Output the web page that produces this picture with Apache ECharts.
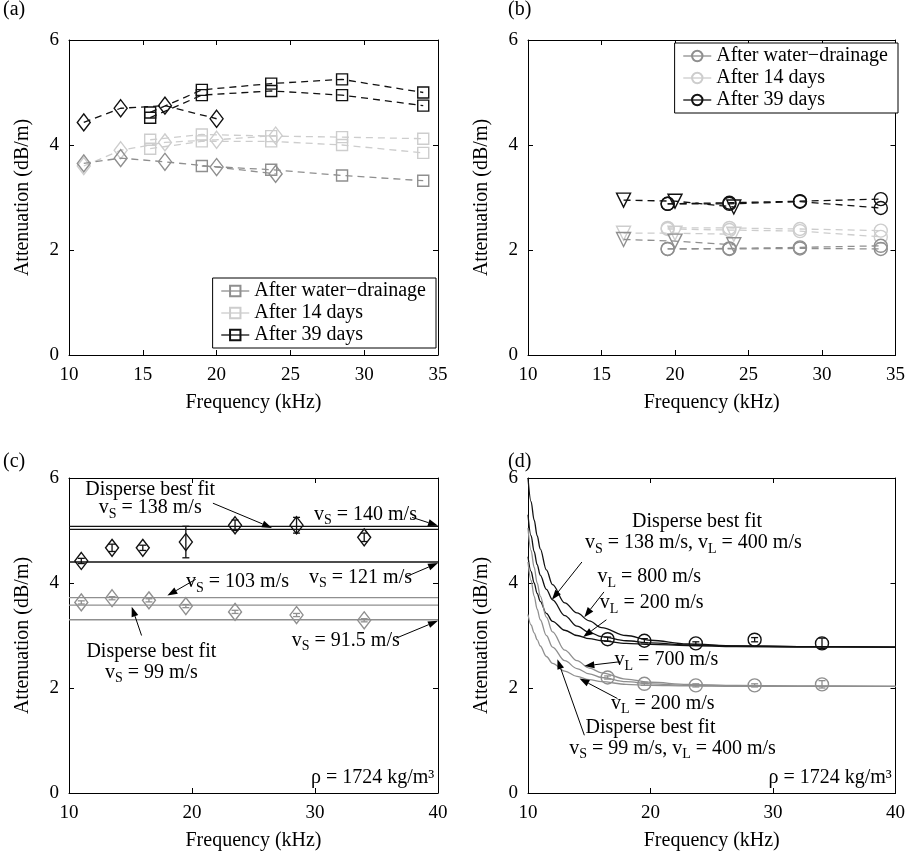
<!DOCTYPE html>
<html><head><meta charset="utf-8">
<script src="https://cdn.jsdelivr.net/npm/echarts@6/dist/echarts.min.js"></script>
<style>html,body{margin:0;padding:0;background:#fff}#c{width:908px;height:866px}</style>
</head><body><div id="c"></div>
<script>
// ---------------- DATA ----------------
// Panel (a)
const aFreqDiamondDark = [11, 13.5, 16.5, 20];
const aDiamondDark     = [4.43, 4.7, 4.75, 4.5];
const aFreqSquare      = [15.5, 19, 23.7, 28.5, 34];
const aSquareDark1     = [4.62, 5.05, 5.17, 5.25, 5.0];
const aSquareDark2     = [4.52, 4.95, 5.03, 4.95, 4.75];
const aFreqDiamond     = [11, 13.5, 16.5, 20, 24];
const aDiamondLight    = [3.6, 3.9, 4.05, 4.1, 4.18];
const aSquareLight1    = [4.1, 4.2, 4.17, 4.15, 4.12];
const aSquareLight2    = [3.93, 4.07, 4.07, 4.0, 3.85];
const aDiamondGray     = [3.65, 3.75, 3.68, 3.58, 3.45];
const aFreqSquareGray  = [19, 23.7, 28.5, 34];
const aSquareGray      = [3.6, 3.53, 3.42, 3.32];

// Panel (b)
const bFreqTri    = [16.5, 20, 24];
const bFreqCirc   = [19.5, 23.7, 28.5, 34];
const bTriDark    = [2.95, 2.93, 2.82];
const bCircDark1  = [2.88, 2.9, 2.93, 2.97];
const bCircDark2  = [2.88, 2.88, 2.92, 2.8];
const bTriLight   = [2.32, 2.32, 2.3];
const bCircLight1 = [2.42, 2.42, 2.4, 2.37];
const bCircLight2 = [2.4, 2.38, 2.36, 2.25];
const bTriGray    = [2.2, 2.17, 2.1];
const bCircGray1  = [2.02, 2.03, 2.05, 2.08];
const bCircGray2  = [2.02, 2.02, 2.03, 2.02];

// Panel (c)
const cFreqDark = [11, 13.5, 16, 19.5, 23.5, 28.5, 34];
const cDark     = [4.42, 4.67, 4.67, 4.78, 5.1, 5.1, 4.87];
const cDarkErr  = [0.05, 0.07, 0.05, 0.3, 0.1, 0.15, 0.08];
const cFreqGray = [11, 13.5, 16.5, 19.5, 23.5, 28.5, 34];
const cGray     = [3.63, 3.71, 3.67, 3.56, 3.45, 3.39, 3.29];
const cGrayErr  = [0.03, 0.03, 0.03, 0.03, 0.03, 0.03, 0.03];
const cFitFreq  = [10, 40];
const cFit140   = [5.08, 5.08];
const cFit138   = [5.02, 5.02];
const cFit121   = [4.4, 4.4];
const cFit103   = [3.72, 3.72];
const cFit99    = [3.58, 3.58];
const cFit915   = [3.3, 3.3];

// Panel (d)
const dCurveFreq = [10, 10.25, 10.5, 10.75, 11, 11.5, 12, 13, 14, 15, 16, 18, 20, 23, 27, 32, 40];
const dDark800   = [6.0, 5.55, 5.2, 4.9, 4.65, 4.25, 3.97, 3.62, 3.43, 3.28, 3.15, 3.0, 2.91, 2.84, 2.8, 2.79, 2.78];
const dDark400   = [5.3, 4.9, 4.6, 4.35, 4.15, 3.88, 3.68, 3.38, 3.18, 3.06, 2.98, 2.9, 2.86, 2.82, 2.8, 2.79, 2.78];
const dDark200   = [4.5, 4.22, 4.0, 3.8, 3.65, 3.42, 3.27, 3.1, 3.0, 2.94, 2.9, 2.85, 2.83, 2.81, 2.79, 2.78, 2.78];
const dGray700   = [5.05, 4.62, 4.3, 4.0, 3.75, 3.35, 3.07, 2.72, 2.52, 2.38, 2.29, 2.17, 2.11, 2.07, 2.05, 2.04, 2.03];
const dGray400   = [4.4, 4.05, 3.75, 3.5, 3.3, 3.0, 2.78, 2.52, 2.37, 2.27, 2.2, 2.12, 2.08, 2.05, 2.04, 2.03, 2.03];
const dGray200   = [3.4, 3.2, 3.05, 2.92, 2.8, 2.6, 2.47, 2.32, 2.22, 2.16, 2.12, 2.07, 2.05, 2.04, 2.03, 2.03, 2.03];
const dFreq      = [16.5, 19.5, 23.7, 28.5, 34];
const dDark      = [2.93, 2.9, 2.85, 2.92, 2.85];
const dDarkErr   = [0.04, 0.04, 0.03, 0.04, 0.1];
const dGray      = [2.2, 2.08, 2.05, 2.05, 2.07];
const dGrayErr   = [0.03, 0.03, 0.03, 0.03, 0.07];

// tick settings
const xTicksTop = [10, 35, 5];
const xTicksBottom = [10, 40, 10];
const yTicks = [0, 6, 2];

// ---------------- STYLE ----------------
const FONT = "'Liberation Serif', 'Times New Roman', serif";
const DARK = '#111111', GRAY = '#8f8f8f', LIGHT = '#cdcdcd';
const grids = [
  {left: 69, top: 40, width: 369, height: 315},
  {left: 528, top: 40, width: 370, height: 315},
  {left: 69, top: 478, width: 369, height: 315},
  {left: 528, top: 478, width: 370, height: 315}
];
const xr = [xTicksTop, xTicksTop, xTicksBottom, xTicksBottom];

function pts(xs, ys) { return xs.map((x, i) => [x, ys[i]]); }

const xAxis = [], yAxis = [];
for (let k = 0; k < 2; k++) {
  for (let i = 0; i < 4; i++) {
    const prim = k === 0;
    xAxis.push({
      gridIndex: i, type: 'value', min: xr[i][0], max: xr[i][1], interval: xr[i][2],
      position: prim ? 'bottom' : 'top',
      name: prim ? 'Frequency (kHz)' : '', nameLocation: 'middle', nameGap: 38,
      nameTextStyle: {fontFamily: FONT, fontSize: 20, color: '#000'},
      axisLine: {show: true, onZero: false, lineStyle: {color: '#000', width: 1}},
      axisTick: {show: true, inside: true, length: 5, lineStyle: {color: '#000'}},
      axisLabel: {show: prim, fontFamily: FONT, fontSize: 19, color: '#000', margin: 11},
      splitLine: {show: false}
    });
    yAxis.push({
      gridIndex: i, type: 'value', min: yTicks[0], max: yTicks[1], interval: yTicks[2],
      position: prim ? 'left' : 'right',
      name: prim ? 'Attenuation (dB/m)' : '', nameLocation: 'middle', nameGap: 36,
      nameTextStyle: {fontFamily: FONT, fontSize: 20, color: '#000'},
      axisLine: {show: true, onZero: false, lineStyle: {color: '#000', width: 1}},
      axisTick: {show: true, inside: true, length: 5, lineStyle: {color: '#000'}},
      axisLabel: {show: prim, fontFamily: FONT, fontSize: 19, color: '#000', margin: 10},
      splitLine: {show: false}
    });
  }
}

function dashed(name, g, xs, ys, color, symbol, size, rot, z) {
  return {
    type: 'line', name, xAxisIndex: g, yAxisIndex: g, data: pts(xs, ys),
    symbol, symbolSize: size, symbolRotate: rot || 0, z: z || 2,
    itemStyle: {color: 'rgba(255,255,255,0)', borderColor: color, borderWidth: 1.4},
    lineStyle: {color, width: 1.3, type: [7, 5]},
    emphasis: {disabled: true}, silent: true
  };
}
function solid(name, g, xs, ys, color, z) {
  return {
    type: 'line', name, xAxisIndex: g, yAxisIndex: g, data: pts(xs, ys),
    symbol: 'none', smooth: 0.35, smoothMonotone: 'x', z: z || 2,
    lineStyle: {color, width: 1.3}, emphasis: {disabled: true}, silent: true
  };
}
function marks(name, g, xs, ys, color, symbol, size, z) {
  return {
    type: 'line', name, xAxisIndex: g, yAxisIndex: g, data: pts(xs, ys),
    symbol, symbolSize: size, z: z || 4, showSymbol: true,
    itemStyle: {color: 'rgba(255,255,255,0)', borderColor: color, borderWidth: 1.4},
    lineStyle: {width: 0, opacity: 0}, emphasis: {disabled: true}, silent: true
  };
}
function errbars(name, g, xs, ys, es, color) {
  return {
    type: 'custom', name, xAxisIndex: g, yAxisIndex: g, z: 5, silent: true,
    data: xs.map((x, i) => [x, ys[i] - es[i], ys[i] + es[i]]),
    encode: {x: 0, y: [1, 2]},
    renderItem: (params, api) => {
      const x = api.value(0);
      const lo = api.coord([x, api.value(1)]);
      const hi = api.coord([x, api.value(2)]);
      const w = 3.5, st = {stroke: color, lineWidth: 1.3};
      return {type: 'group', children: [
        {type: 'line', shape: {x1: lo[0], y1: lo[1], x2: hi[0], y2: hi[1]}, style: st},
        {type: 'line', shape: {x1: lo[0] - w, y1: lo[1], x2: lo[0] + w, y2: lo[1]}, style: st},
        {type: 'line', shape: {x1: hi[0] - w, y1: hi[1], x2: hi[0] + w, y2: hi[1]}, style: st}
      ]};
    }
  };
}

const DIA = [13, 17], SQ = 11, CIR = 13, TRI = 14;
const series = [
  // (a)
  dashed('After water−drainage', 0, aFreqSquareGray, aSquareGray, GRAY, 'rect', SQ, 0, 3),
  dashed('After 14 days', 0, aFreqSquare, aSquareLight1, LIGHT, 'rect', SQ, 0, 2),
  dashed('After 14 days', 0, aFreqSquare, aSquareLight2, LIGHT, 'rect', SQ, 0, 2),
  dashed('After 39 days', 0, aFreqSquare, aSquareDark1, DARK, 'rect', SQ, 0, 4),
  dashed('After 39 days', 0, aFreqSquare, aSquareDark2, DARK, 'rect', SQ, 0, 4),
  dashed('a-diamond-light', 0, aFreqDiamond, aDiamondLight, LIGHT, 'diamond', DIA, 0, 2),
  dashed('a-diamond-gray', 0, aFreqDiamond, aDiamondGray, GRAY, 'diamond', DIA, 0, 3),
  dashed('a-diamond-dark', 0, aFreqDiamondDark, aDiamondDark, DARK, 'diamond', DIA, 0, 4),
  // (b)
  dashed('b:After water−drainage', 1, bFreqCirc, bCircGray1, GRAY, 'circle', CIR, 0, 3),
  dashed('b:After water−drainage', 1, bFreqCirc, bCircGray2, GRAY, 'circle', CIR, 0, 3),
  dashed('b:After 14 days', 1, bFreqCirc, bCircLight1, LIGHT, 'circle', CIR, 0, 2),
  dashed('b:After 14 days', 1, bFreqCirc, bCircLight2, LIGHT, 'circle', CIR, 0, 2),
  dashed('b:After 39 days', 1, bFreqCirc, bCircDark1, DARK, 'circle', CIR, 0, 4),
  dashed('b:After 39 days', 1, bFreqCirc, bCircDark2, DARK, 'circle', CIR, 0, 4),
  dashed('b-tri-light', 1, bFreqTri, bTriLight, LIGHT, 'triangle', TRI, 180, 2),
  dashed('b-tri-gray', 1, bFreqTri, bTriGray, GRAY, 'triangle', TRI, 180, 3),
  dashed('b-tri-dark', 1, bFreqTri, bTriDark, DARK, 'triangle', TRI, 180, 4),
  // (c)
  solid('c-fit-140', 2, cFitFreq, cFit140, DARK),
  solid('c-fit-138', 2, cFitFreq, cFit138, DARK),
  solid('c-fit-121', 2, cFitFreq, cFit121, DARK),
  solid('c-fit-103', 2, cFitFreq, cFit103, GRAY),
  solid('c-fit-99', 2, cFitFreq, cFit99, GRAY),
  solid('c-fit-91.5', 2, cFitFreq, cFit915, GRAY),
  marks('c-dark', 2, cFreqDark, cDark, DARK, 'diamond', DIA),
  errbars('c-dark-err', 2, cFreqDark, cDark, cDarkErr, DARK),
  marks('c-gray', 2, cFreqGray, cGray, GRAY, 'diamond', DIA),
  errbars('c-gray-err', 2, cFreqGray, cGray, cGrayErr, GRAY),
  // (d)
  solid('d-dark-800', 3, dCurveFreq, dDark800, DARK),
  solid('d-dark-400', 3, dCurveFreq, dDark400, DARK),
  solid('d-dark-200', 3, dCurveFreq, dDark200, DARK),
  solid('d-gray-700', 3, dCurveFreq, dGray700, GRAY),
  solid('d-gray-400', 3, dCurveFreq, dGray400, GRAY),
  solid('d-gray-200', 3, dCurveFreq, dGray200, GRAY),
  marks('d-dark', 3, dFreq, dDark, DARK, 'circle', CIR),
  errbars('d-dark-err', 3, dFreq, dDark, dDarkErr, DARK),
  marks('d-gray', 3, dFreq, dGray, GRAY, 'circle', CIR),
  errbars('d-gray-err', 3, dFreq, dGray, dGrayErr, GRAY)
];

const legendCommon = {
  orient: 'vertical', selectedMode: false, backgroundColor: '#fff',
  borderColor: '#000', borderWidth: 1, borderRadius: 0, padding: [3, 10, 3, 8],
  itemGap: 2, itemWidth: 28, itemHeight: 13,
  textStyle: {fontFamily: FONT, fontSize: 20, color: '#000'},
  lineStyle: {type: 'solid', width: 1.3}
};

const chart = echarts.init(document.getElementById('c'), null, {renderer: 'canvas', width: 908, height: 866});
chart.setOption({
  animation: false,
  backgroundColor: '#fff',
  grid: grids,
  xAxis, yAxis, series,
  legend: [
    Object.assign({}, legendCommon, {data: ['After water−drainage', 'After 14 days', 'After 39 days'], right: 472, bottom: 518}),
    Object.assign({}, legendCommon, {data: ['b:After water−drainage', 'b:After 14 days', 'b:After 39 days'],
      formatter: n => n.slice(2), right: 10, top: 43})
  ]
});

// ---------------- ANNOTATIONS ----------------
const RICH = {
  n: {fontSize: 20, fontFamily: FONT, fill: '#000'},
  s: {fontSize: 14, fontFamily: FONT, fill: '#000', padding: [12, 0, 0, 0]}
};
function toRich(s) { return '{n|' + s.replace(/_(\w)/g, '}{s|$1}{n|') + '}'; }
function px(g, p) { return chart.convertToPixel({xAxisIndex: g, yAxisIndex: g}, p); }
function label(g, str, pos, align) {
  const p = px(g, pos);
  return {type: 'text', x: p[0], y: p[1], silent: true, z: 20,
    style: {text: toRich(str), rich: RICH, align: align || 'center', verticalAlign: 'middle',
      font: '20px ' + FONT, fill: '#000'}};
}
function arrow(g, from, to) {
  const p1 = px(g, from), p2 = px(g, to);
  const dx = p2[0] - p1[0], dy = p2[1] - p1[1], L = Math.hypot(dx, dy);
  const ux = dx / L, uy = dy / L, hl = 10, hw = 3.5;
  const bx = p2[0] - ux * hl, by = p2[1] - uy * hl;
  return [
    {type: 'line', z: 20, silent: true, shape: {x1: p1[0], y1: p1[1], x2: bx, y2: by}, style: {stroke: '#000', lineWidth: 1}},
    {type: 'polygon', z: 20, silent: true, shape: {points: [[p2[0], p2[1]], [bx - uy * hw, by + ux * hw], [bx + uy * hw, by - ux * hw]]}, style: {fill: '#000'}}
  ];
}
function panelLabel(t, x, y) {
  return {type: 'text', x, y, silent: true, style: {text: t, font: '20px ' + FONT, fill: '#000', align: 'left', verticalAlign: 'middle'}};
}

const graphic = [
  panelLabel('(a)', 3, 10), panelLabel('(b)', 508, 10),
  panelLabel('(c)', 3, 462), panelLabel('(d)', 508, 462),
  // (c)
  label(2, 'Disperse best fit', [16.6, 5.77]),
  label(2, 'v_S = 138 m/s', [16.6, 5.43]),
  ...arrow(2, [21.7, 5.52], [26.5, 5.05]),
  label(2, 'v_S = 140 m/s', [34.1, 5.3]),
  ...arrow(2, [37.9, 5.25], [40, 5.09]),
  label(2, 'v_S = 121 m/s', [33.7, 4.1]),
  ...arrow(2, [37.4, 4.12], [40, 4.38]),
  label(2, 'v_S = 103 m/s', [23.7, 4.02]),
  ...arrow(2, [20.3, 4.07], [18.0, 3.76]),
  label(2, 'Disperse best fit', [16.7, 2.7]),
  label(2, 'v_S = 99 m/s', [16.7, 2.3]),
  ...arrow(2, [15.9, 3.0], [15.1, 3.55]),
  label(2, 'v_S = 91.5 m/s', [32.5, 2.9]),
  ...arrow(2, [36.6, 2.95], [40, 3.28]),
  label(2, 'ρ = 1724 kg/m³', [39.7, 0.3], 'right'),
  // (d)
  label(3, 'Disperse best fit', [23.8, 5.16]),
  label(3, 'v_S = 138 m/s, v_L = 400 m/s', [23.5, 4.76]),
  ...arrow(3, [14.4, 4.4], [11.95, 3.68]),
  label(3, 'v_L = 800 m/s', [19.9, 4.11]),
  ...arrow(3, [16.2, 3.83], [14.6, 3.35]),
  label(3, 'v_L = 200 m/s', [20.1, 3.62]),
  ...arrow(3, [16.4, 3.3], [14.5, 2.97]),
  label(3, 'v_L = 700 m/s', [21.3, 2.53]),
  ...arrow(3, [17.5, 2.5], [14.6, 2.42]),
  label(3, 'v_L = 200 m/s', [21.0, 1.7]),
  ...arrow(3, [17.3, 1.8], [14.2, 2.18]),
  label(3, 'Disperse best fit', [20.0, 1.25]),
  label(3, 'v_S = 99 m/s, v_L = 400 m/s', [21.8, 0.85]),
  ...arrow(3, [14.6, 1.1], [12.4, 2.55]),
  label(3, 'ρ = 1724 kg/m³', [39.7, 0.3], 'right')
];
chart.setOption({graphic});
</script>
</body></html>
